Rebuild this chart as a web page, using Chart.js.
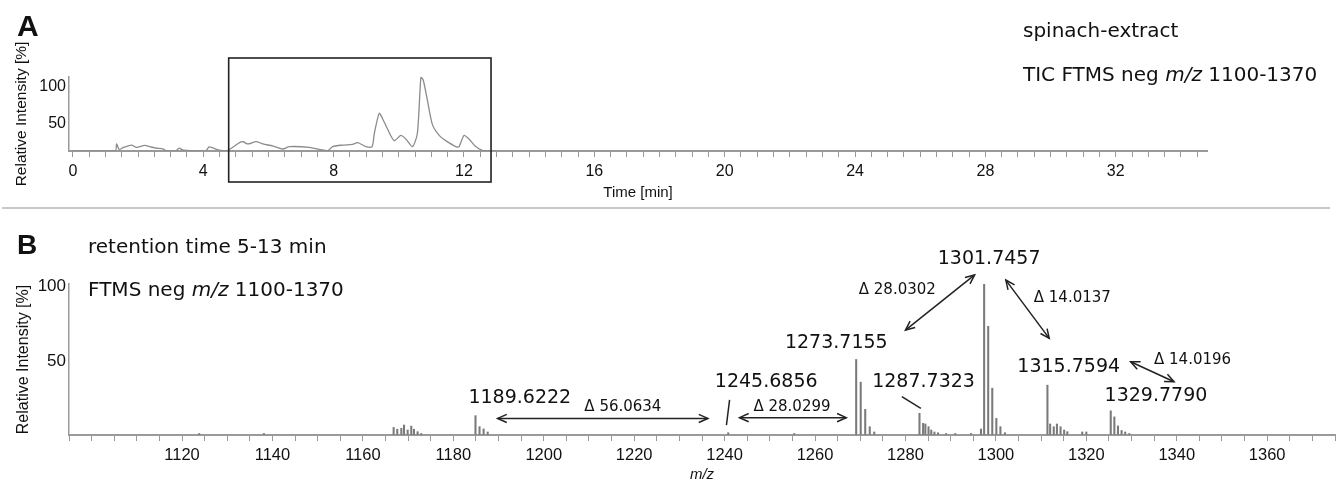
<!DOCTYPE html>
<html>
<head>
<meta charset="utf-8">
<script src="https://cdn.jsdelivr.net/npm/chart.js@4/dist/chart.umd.min.js"></script>
<style>
  body { margin: 0; background: #fff; overflow: hidden; }
  #wrap { position: relative; width: 1343px; height: 484px; font-family: 'DejaVu Sans', sans-serif; color: #111; }
  .box { position: absolute; left: 0; width: 1343px; }
  .txt { position: absolute; white-space: nowrap; font-size: 20px; line-height: 20px; }
  .big { position: absolute; font-family: 'Liberation Sans', Arial, sans-serif; font-weight: bold; }
  #sep { position: absolute; left: 2px; top: 207px; width: 1328px; height: 2px; background: #c8c8c8; }
</style>
</head>
<body>
<div id="wrap">
  <div class="box" style="top:0;height:205px"><canvas id="chartA"></canvas></div>
  <div id="sep"></div>
  <div class="box" style="top:210px;height:274px"><canvas id="chartB"></canvas></div>

  <div class="big" style="left:17px;top:11px;font-size:30px;line-height:30px">A</div>
  <div class="big" style="left:17px;top:231px;font-size:28px;line-height:28px">B</div>
  <div class="txt" style="left:1023px;top:20px">spinach-extract</div>
  <div class="txt" style="left:1023px;top:64px">TIC FTMS neg <i>m/z</i> 1100-1370</div>
  <div class="txt" style="left:88px;top:236px">retention time 5-13 min</div>
  <div class="txt" style="left:88px;top:279px">FTMS neg <i>m/z</i> 1100-1370</div>
</div>
<script>
Chart.defaults.font.family = "'Liberation Sans', Arial, sans-serif";
Chart.defaults.color = '#111';

// panel A - TIC chromatogram (time in min, relative intensity %)
const ticTime = [0, 1.30, 1.34, 1.42, 1.54, 1.80, 1.95, 2.20, 2.35, 2.55, 2.76, 2.86, 3.17, 3.26, 3.39,
    4.08, 4.18, 4.33, 4.49, 4.74, 5.10, 5.22, 5.37, 5.62, 5.83, 6.13, 6.44, 6.64, 7.26, 7.56, 7.82,
    7.97, 8.28, 8.58, 8.74, 8.99, 9.18, 9.25, 9.40, 9.50, 9.65, 9.86, 10.06, 10.22, 10.42, 10.57,
    10.68, 10.75, 10.88, 11.03, 11.24, 11.44, 11.75, 11.85, 12.00, 12.16, 12.36, 12.56, 12.80, 13.0];
const ticIntensity = [0, 0, 9.5, 2, 4.5, 8, 5, 7.5, 6, 4, 3, 0.5, 0.5, 4, 1,
    0.5, 5.5, 3.5, 1, 0.5, 11, 12.5, 9.5, 12.6, 9.5, 6.8, 2.7, 5.9, 5, 2.3, 0.5,
    5.9, 8, 9, 11.3, 6, 6, 24, 51, 44, 30, 14, 21, 16, 6, 24,
    100, 96, 68, 36, 21, 14, 6, 6, 21, 16, 6, 1, 0, 0];
const ticWindow = [4.78, 12.83];   // boxed retention window

// panel B - mass spectrum sticks
const peakMz = [1123.8, 1138.1,
    1166.8, 1167.6, 1168.5, 1169.1, 1169.9, 1170.7, 1171.3, 1172.1, 1172.9,
    1184.9, 1185.8, 1186.7, 1187.6, 1240.8, 1255.4,
    1269.1, 1270.1, 1271.1, 1272.1, 1273.1,
    1283.1, 1283.9, 1284.4, 1285.1, 1285.7, 1286.4, 1287.2, 1289.0, 1291.0, 1294.5,
    1296.7, 1297.4, 1298.3, 1299.2, 1300.1, 1301.0, 1302.0,
    1311.4, 1312.0, 1312.8, 1313.5, 1314.3, 1315.1, 1315.8, 1319.1, 1320.0,
    1325.4, 1326.2, 1327.0, 1327.8, 1328.6, 1329.5];
const peakIntensity = [1, 1,
    5, 3.8, 4.4, 6.6, 3.3, 5.9, 3.8, 2.2, 1,
    12.8, 5.5, 4, 2, 1.5, 1,
    50, 35, 17, 5.5, 2,
    14.4, 7.7, 7.3, 5.5, 3.3, 2, 1.5, 1, 1, 1,
    4, 100, 72, 31, 11, 5.5, 1.5,
    33, 7.3, 5.5, 7.3, 5.5, 3.3, 2.2, 2, 2,
    16, 12, 6, 3, 2, 1];

// peak annotations (label centre in m/z, %)
const massLabels = ['1189.6222', '1245.6856', '1273.7155', '1287.7323', '1301.7457', '1315.7594', '1329.7790'];
const massLabelMz = [1194.7, 1249.2, 1264.7, 1284.0, 1298.5, 1316.1, 1335.4];
const massLabelY = [24.5, 34.8, 61, 34.8, 116.6, 45.2, 26];

const deltaLabels = ['\u0394 56.0634', '\u0394 28.0299', '\u0394 28.0302', '\u0394 14.0137', '\u0394 14.0196'];
const deltaMz = [1217.5, 1254.9, 1278.2, 1316.9, 1343.5];
const deltaY = [18.2, 18.2, 96, 90.5, 49.7];

// double arrows and leader lines: [mz1, y1, mz2, y2]
const arrows = [
    [1189.8, 11, 1236.3, 11],
    [1243.3, 11.5, 1266.9, 11.5],
    [1280.0, 69.5, 1295.3, 106],
    [1302.2, 102.6, 1311.8, 64],
    [1329.8, 48.5, 1339.4, 35.3],
];
const leaders = [
    [1241.1, 23.2, 1240.4, 6.6],
    [1279.2, 25.4, 1283.4, 17.7],
];

const axisGray = '#9a9a9a';

// box around the 5-13 min window
const windowBox = {
    id: 'windowBox',
    afterDraw(chart) {
        const ctx = chart.ctx;
        const x1 = chart.scales.x.getPixelForValue(ticWindow[0]);
        const x2 = chart.scales.x.getPixelForValue(ticWindow[1]);
        const top = chart.chartArea.top - 19;
        const bottom = chart.chartArea.bottom + 31;
        ctx.save();
        ctx.strokeStyle = '#222';
        ctx.lineWidth = 1.6;
        ctx.strokeRect(x1, top, x2 - x1, bottom - top);
        ctx.restore();
    }
};

function head(ctx, x1, y1, x2, y2) {
    const a = Math.atan2(y2 - y1, x2 - x1);
    const L = 10, w = 0.42;
    ctx.beginPath();
    ctx.moveTo(x2 - L * Math.cos(a - w), y2 - L * Math.sin(a - w));
    ctx.lineTo(x2, y2);
    ctx.lineTo(x2 - L * Math.cos(a + w), y2 - L * Math.sin(a + w));
    ctx.stroke();
}

const spectrumNotes = {
    id: 'spectrumNotes',
    afterDraw(chart) {
        const ctx = chart.ctx, xs = chart.scales.x, ys = chart.scales.y;
        ctx.save();
        ctx.fillStyle = '#111';
        ctx.strokeStyle = '#222';
        ctx.lineWidth = 1.5;
        ctx.textAlign = 'center';
        ctx.textBaseline = 'middle';

        ctx.font = "19px 'DejaVu Sans', sans-serif";
        massLabels.forEach((t, i) => {
            ctx.fillText(t, xs.getPixelForValue(massLabelMz[i]), ys.getPixelForValue(massLabelY[i]));
        });

        ctx.font = "15px 'DejaVu Sans', sans-serif";
        deltaLabels.forEach((t, i) => {
            ctx.fillText(t, xs.getPixelForValue(deltaMz[i]), ys.getPixelForValue(deltaY[i]));
        });

        arrows.forEach(a => {
            const x1 = xs.getPixelForValue(a[0]), y1 = ys.getPixelForValue(a[1]);
            const x2 = xs.getPixelForValue(a[2]), y2 = ys.getPixelForValue(a[3]);
            ctx.beginPath();
            ctx.moveTo(x1, y1);
            ctx.lineTo(x2, y2);
            ctx.stroke();
            head(ctx, x1, y1, x2, y2);
            head(ctx, x2, y2, x1, y1);
        });

        leaders.forEach(a => {
            ctx.beginPath();
            ctx.moveTo(xs.getPixelForValue(a[0]), ys.getPixelForValue(a[1]));
            ctx.lineTo(xs.getPixelForValue(a[2]), ys.getPixelForValue(a[3]));
            ctx.stroke();
        });
        ctx.restore();
    }
};

// chart A

const configA = {
    type: 'line',
    data: {
        datasets: [{
            data: ticTime.map((t, i) => ({ x: t, y: ticIntensity[i] })),
            borderColor: '#8c8c8c',
            borderWidth: 1.3,
            pointRadius: 0,
            tension: 0.25,
        }]
    },
    options: {
        responsive: true,
        maintainAspectRatio: false,
        animation: false,
        events: [],
        layout: { padding: { left: 0, top: 77, right: 136, bottom: 0 } },
        scales: {
            x: {
                type: 'linear',
                min: -0.12,
                max: 34.8,
                afterFit: s => { s.height = 54; },
                border: { color: axisGray, width: 2 },
                grid: { drawOnChartArea: false, drawTicks: true, tickLength: 6, tickColor: axisGray },
                ticks: {
                    stepSize: 0.5,
                    autoSkip: false,
                    includeBounds: false,
                    maxRotation: 0,
                    padding: 5,
                    font: { size: 16 },
                    callback: v => (v % 4 === 0 ? v : ''),
                },
                title: { display: true, text: 'Time [min]', font: { size: 15 }, padding: { top: 0, bottom: 3 } },
            },
            y: {
                min: 0,
                max: 100,
                afterFit: s => { s.width = 69; },
                border: { color: axisGray, width: 1.5 },
                grid: { drawOnChartArea: false, drawTicks: false },
                ticks: {
                    stepSize: 50,
                    padding: 3,
                    labelOffset: 10,
                    font: { size: 16 },
                    callback: v => (v === 0 ? '' : v),
                },
                title: { display: true, text: 'Relative Intensity [%]', font: { size: 15.5 }, padding: { top: 12, bottom: 0 } },
            }
        },
        plugins: {
            legend: { display: false },
            tooltip: { enabled: false },
        }
    },
    plugins: [windowBox]
};

const chartA = new Chart(document.getElementById('chartA').getContext('2d'), configA);

// chart B

const configB = {
    type: 'bar',
    data: {
        datasets: [{
            data: peakMz.map((m, i) => ({ x: m, y: peakIntensity[i] })),
            backgroundColor: '#7a7a7a',
            borderWidth: 0,
            barThickness: 1.4,
            grouped: false,
        }]
    },
    options: {
        responsive: true,
        maintainAspectRatio: false,
        animation: false,
        events: [],
        layout: { padding: { left: 0, top: 74, right: 8, bottom: 0 } },
        scales: {
            x: {
                type: 'linear',
                min: 1095,
                max: 1375,
                offset: false,
                afterFit: s => { s.height = 49; },
                border: { color: axisGray, width: 2 },
                grid: { offset: false, drawOnChartArea: false, drawTicks: true, tickLength: 6, tickColor: axisGray },
                ticks: {
                    stepSize: 5,
                    autoSkip: false,
                    includeBounds: false,
                    maxRotation: 0,
                    padding: 5,
                    font: { size: 16.5 },
                    callback: v => (v % 20 === 0 && v > 1100 ? v : ''),
                },
                title: { display: true, text: 'm/z', font: { size: 15, style: 'italic' }, padding: { top: 0, bottom: 0 } },
            },
            y: {
                min: 0,
                max: 100,
                afterFit: s => { s.width = 69; },
                border: { color: axisGray, width: 1.5 },
                grid: { drawOnChartArea: false, drawTicks: false },
                ticks: {
                    stepSize: 50,
                    padding: 3,
                    labelOffset: 2,
                    font: { size: 17 },
                    callback: v => (v === 0 ? '' : v),
                },
                title: { display: true, text: 'Relative Intensity [%]', font: { size: 16 }, padding: { top: 14, bottom: 0 } },
            }
        },
        plugins: {
            legend: { display: false },
            tooltip: { enabled: false },
        }
    },
    plugins: [spectrumNotes]
};

const chartB = new Chart(document.getElementById('chartB').getContext('2d'), configB);
</script>
</body>
</html>
